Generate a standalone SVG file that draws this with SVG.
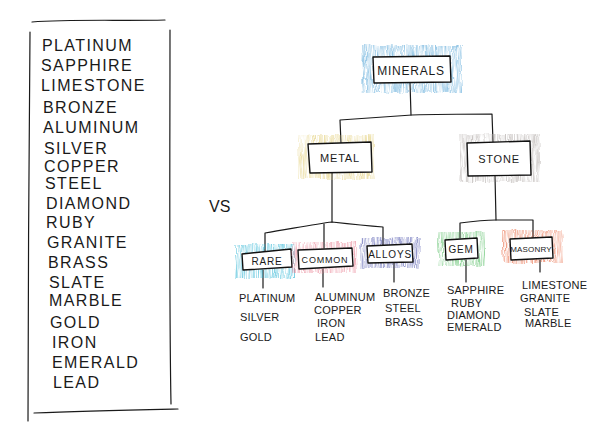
<svg xmlns="http://www.w3.org/2000/svg" width="600" height="438" viewBox="0 0 600 438">
<defs>
<filter id="crayon" x="-10%" y="-10%" width="120%" height="120%">
<feTurbulence type="fractalNoise" baseFrequency="0.9 0.06" numOctaves="2" seed="3" result="n"/>
<feColorMatrix in="n" type="matrix" values="0 0 0 0 0  0 0 0 0 0  0 0 0 0 0  2.2 0 0 0 -0.7" result="a"/>
<feComposite in="SourceGraphic" in2="a" operator="in" result="c"/>
<feTurbulence type="fractalNoise" baseFrequency="0.12" numOctaves="1" seed="7" result="d"/>
<feDisplacementMap in="c" in2="d" scale="5" xChannelSelector="R" yChannelSelector="G"/>
</filter>
</defs>
<style>
.ink{fill:none;stroke:#1a1a1a;stroke-width:1.2;stroke-linecap:round;stroke-linejoin:round}
.box{fill:#fff;stroke:#111;stroke-width:1.4;stroke-linejoin:round}
.shade{filter:url(#crayon);opacity:0.6}
.list{font-family:"Liberation Sans",Arial,sans-serif;font-size:16px;letter-spacing:1.4px;fill:#1a1a1a}
.lbl{font-family:"Liberation Sans",Arial,sans-serif;fill:#1a1a1a;text-anchor:middle;letter-spacing:0.8px}
.sub{font-family:"Liberation Sans",Arial,sans-serif;font-size:11px;fill:#1a1a1a;letter-spacing:0.2px}
</style>
<rect width="600" height="438" fill="#fff"/>

<g id="list-panel">
<path class="ink" d="M32,22 C70,19 120,21 165,20"/>
<path class="ink" d="M30,32 C29,150 28,300 28,421"/>
<path class="ink" d="M170,30 C170,150 169,300 171,404"/>
<path class="ink" d="M34,413 C80,411 130,410 178,409"/>
<g class="list">
<text x="42" y="51">PLATINUM</text>
<text x="41" y="71">SAPPHIRE</text>
<text x="41" y="91">LIMESTONE</text>
<text x="43" y="113">BRONZE</text>
<text x="43" y="133">ALUMINUM</text>
<text x="44" y="154">SILVER</text>
<text x="44" y="172">COPPER</text>
<text x="45" y="189">STEEL</text>
<text x="46" y="209">DIAMOND</text>
<text x="46" y="228">RUBY</text>
<text x="47" y="248">GRANITE</text>
<text x="48" y="268">BRASS</text>
<text x="49" y="288">SLATE</text>
<text x="49" y="306">MARBLE</text>
<text x="50" y="328">GOLD</text>
<text x="52" y="348">IRON</text>
<text x="52" y="368">EMERALD</text>
<text x="53" y="388">LEAD</text>
</g>
</g>

<text x="209" y="212" font-family="Liberation Sans,Arial,sans-serif" font-size="16" fill="#1a1a1a">VS</text>

<g id="connectors" class="ink">
<path d="M410,83 L411,115"/>
<path d="M341,143 L340,120 C370,118 395,116 412,115 C440,114 470,114 492,114 L493,142"/>
<path d="M332,173 L332,222"/>
<path d="M265,252 L265,233 C290,229 315,224 332,222 C350,224 370,226 383,227 L383,245"/>
<path d="M324,224 L324,248"/>
<path d="M495,176 L496,220"/>
<path d="M460,238 L460,223 C475,221 485,220 496,220 C510,220 522,220 533,220 L533,238"/>
<path d="M263,270 L263,288"/>
<path d="M323,269 L323,287"/>
<path d="M394,263 L394,282"/>
<path d="M466,260 L466,282"/>
<path d="M540,260 L540,272"/>
</g>

<g id="node-minerals">
<rect class="shade" x="362" y="45" width="100" height="48" fill="#4a9fd4"/>
<path class="box" d="M373,57 L450,56 L451,82 L374,83 Z"/>
<text class="lbl" x="411" y="75" font-size="12">MINERALS</text>
</g>

<g id="node-metal">
<rect class="shade" x="298" y="135" width="77" height="44" fill="#e3cf7a"/>
<path class="box" d="M308,144 L371,142 L372,172 L310,173 Z"/>
<text class="lbl" x="340" y="162" font-size="11">METAL</text>
</g>

<g id="node-stone">
<rect class="shade" x="460" y="134" width="80" height="48" fill="#aaa3a0"/>
<path class="box" d="M467,143 L530,141 L531,175 L468,176 Z"/>
<text class="lbl" x="499" y="163" font-size="11">STONE</text>
</g>

<g id="node-rare">
<rect class="shade" x="235" y="244" width="60" height="34" fill="#2bb3d3"/>
<path class="box" d="M242,254 L291,249 L292,267 L243,270 Z"/>
<text class="lbl" x="267" y="265" font-size="10">RARE</text>
</g>

<g id="node-common">
<rect class="shade" x="292" y="242" width="65" height="31" fill="#e87b8e"/>
<path class="box" d="M298,250 L352,248 L353,266 L299,269 Z"/>
<text class="lbl" x="325" y="263" font-size="9">COMMON</text>
</g>

<g id="node-alloys">
<rect class="shade" x="360" y="238" width="60" height="30" fill="#4e55ad"/>
<path class="box" d="M367,246 L412,244 L413,262 L368,263 Z"/>
<text class="lbl" x="390" y="258" font-size="10">ALLOYS</text>
</g>

<g id="node-gem">
<rect class="shade" x="438" y="232" width="47" height="34" fill="#55bd63"/>
<path class="box" d="M445,240 L477,238 L478,258 L446,260 Z"/>
<text class="lbl" x="461" y="253" font-size="10">GEM</text>
</g>

<g id="node-masonry">
<rect class="shade" x="502" y="230" width="61" height="33" fill="#e8653e"/>
<path class="box" d="M510,239 L552,237 L553,258 L511,260 Z"/>
<text class="lbl" x="531" y="252" font-size="8" style="letter-spacing:0.2px">MASONRY</text>
</g>

<g id="leaf-lists" class="sub">
<text x="239" y="302">PLATINUM</text>
<text x="240" y="321">SILVER</text>
<text x="240" y="341">GOLD</text>
<text x="315" y="301">ALUMINUM</text>
<text x="314" y="314">COPPER</text>
<text x="317" y="327">IRON</text>
<text x="315" y="341">LEAD</text>
<text x="383" y="297">BRONZE</text>
<text x="385" y="312">STEEL</text>
<text x="385" y="326">BRASS</text>
<text x="447" y="294">SAPPHIRE</text>
<text x="451" y="307">RUBY</text>
<text x="447" y="319">DIAMOND</text>
<text x="447" y="331">EMERALD</text>
<text x="522" y="289">LIMESTONE</text>
<text x="520" y="302">GRANITE</text>
<text x="524" y="316">SLATE</text>
<text x="525" y="327">MARBLE</text>
</g>
</svg>
